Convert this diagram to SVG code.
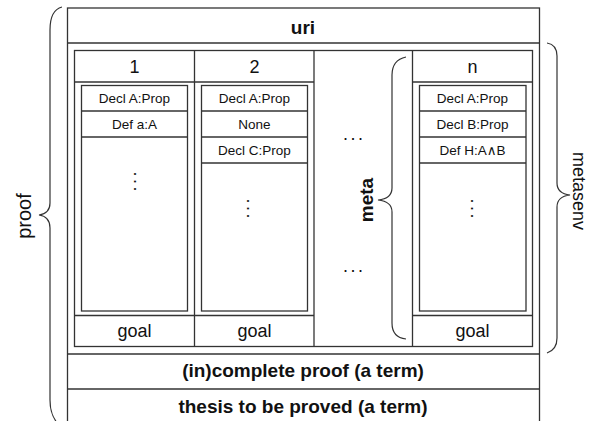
<svg xmlns="http://www.w3.org/2000/svg" width="590" height="421" viewBox="0 0 590 421">
<style>
.ln{fill:none;stroke:#333;stroke-width:1.3}
.br{fill:none;stroke:#333;stroke-width:1.2}
text{font-family:"Liberation Sans",Arial,"DejaVu Sans",sans-serif;fill:#111}
.big{font-size:19px;font-weight:bold;text-anchor:middle}
.hd{font-size:18px;text-anchor:middle}
.dc{font-size:13.5px;text-anchor:middle}
.dots{font-size:18px;letter-spacing:2.5px}
</style>
<rect width="590" height="421" fill="#fff"/>
<g id="proof">
<rect class="ln" x="67.5" y="8" width="472" height="430"/>
<line class="ln" x1="67.5" y1="43" x2="539.5" y2="43"/>
<line class="ln" x1="67.5" y1="354" x2="539.5" y2="354"/>
<line class="ln" x1="67.5" y1="389" x2="539.5" y2="389"/>
<text class="big" x="303" y="34">uri</text>
<text class="big" x="303" y="377">(in)complete proof (a term)</text>
<text class="big" x="303" y="413">thesis to be proved (a term)</text>
</g>
<g id="metasenv">
<rect class="ln" x="74.5" y="50.5" width="458" height="296"/>
<line class="ln" x1="194.5" y1="50.5" x2="194.5" y2="346.5"/>
<line class="ln" x1="314" y1="50.5" x2="314" y2="346.5"/>
<line class="ln" x1="412.5" y1="50.5" x2="412.5" y2="346.5"/>
<line class="ln" x1="74.5" y1="82" x2="314" y2="82"/>
<line class="ln" x1="412.5" y1="82" x2="532.5" y2="82"/>
<line class="ln" x1="74.5" y1="315.5" x2="314" y2="315.5"/>
<line class="ln" x1="412.5" y1="315.5" x2="532.5" y2="315.5"/>
</g>
<g id="goal1">
<text class="hd" x="134.5" y="72.5">1</text>
<rect class="ln" x="81.5" y="85.5" width="106" height="225.5"/>
<line class="ln" x1="81.5" y1="111" x2="187.5" y2="111"/>
<line class="ln" x1="81.5" y1="137" x2="187.5" y2="137"/>
<text class="dc" x="134.5" y="103">Decl A:Prop</text>
<text class="dc" x="134.5" y="129">Def a:A</text>
<text class="dots" transform="translate(133.5,171.5) rotate(90)">...</text>
<text class="hd" x="134.5" y="336.5">goal</text>
</g>
<g id="goal2">
<text class="hd" x="254.5" y="72.5">2</text>
<rect class="ln" x="201.5" y="85.5" width="106" height="225.5"/>
<line class="ln" x1="201.5" y1="111" x2="307.5" y2="111"/>
<line class="ln" x1="201.5" y1="137" x2="307.5" y2="137"/>
<line class="ln" x1="201.5" y1="163" x2="307.5" y2="163"/>
<text class="dc" x="254.5" y="103">Decl A:Prop</text>
<text class="dc" x="254.5" y="129">None</text>
<text class="dc" x="254.5" y="155">Decl C:Prop</text>
<text class="dots" transform="translate(247,198.5) rotate(90)">...</text>
<text class="hd" x="254.5" y="336.5">goal</text>
</g>
<g id="ellipsis">
<text class="dots" x="343" y="139.5">...</text>
<text class="dots" x="343" y="271.5">...</text>
<text x="366" y="200" transform="rotate(-90 366 200)" style="font-size:19px;font-weight:bold;text-anchor:middle;dominant-baseline:central">meta</text>
</g>
<g id="goaln">
<text class="hd" x="472.5" y="72.5">n</text>
<rect class="ln" x="419.5" y="85.5" width="106.5" height="225.5"/>
<line class="ln" x1="419.5" y1="111" x2="526" y2="111"/>
<line class="ln" x1="419.5" y1="137" x2="526" y2="137"/>
<line class="ln" x1="419.5" y1="163" x2="526" y2="163"/>
<text class="dc" x="472.5" y="103">Decl A:Prop</text>
<text class="dc" x="472.5" y="129">Decl B:Prop</text>
<text class="dc" x="472.5" y="155">Def H:A∧B</text>
<text class="dots" transform="translate(471,198.5) rotate(90)">...</text>
<text class="hd" x="472.5" y="336.5">goal</text>
</g>
<g id="labels">
<text x="24" y="216" transform="rotate(-90 24 216)" style="font-size:20px;text-anchor:middle;dominant-baseline:central">proof</text>
<text x="579" y="191" transform="rotate(90 579 191)" style="font-size:18px;text-anchor:middle;dominant-baseline:central">metasenv</text>
</g>
<g id="connectors">
<path class="br" d="M62,7 C54,9 50,18 50,30 L50,203 C50,210 46,214 39,215 C46,216 50,220 50,228 L50,400 C50,412 53,418 58,424"/>
<path class="br" d="M547,43 C553,44 557,48 557,56 L557,183 C557,190 561,194 570,195 C561,196 557,200 557,207 L557,338 C557,346 553,351 547,353"/>
<path class="br" d="M406,57 C397,59 392,65 392,75 L392,188 C392,195 388,199 378,200 C388,201 392,205 392,212 L392,323 C392,333 397,338 406,339"/>
</g>
</svg>
